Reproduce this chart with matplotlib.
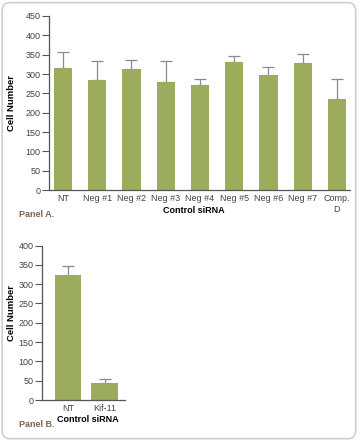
import matplotlib.pyplot as plt
from matplotlib.patches import FancyBboxPatch
import numpy as np

plt.rcParams['font.family'] = ['Liberation Sans', 'DejaVu Sans']

# Panel A
labels_a = ['NT', 'Neg #1', 'Neg #2', 'Neg #3', 'Neg #4', 'Neg #5', 'Neg #6', 'Neg #7', 'Comp.\nD']
means_a = [315, 285, 313, 279, 272, 331, 297, 328, 236]
err_a = [41, 48, 23, 55, 15, 15, 22, 24, 52]

# Panel B
labels_b = ['NT', 'Kif-11']
means_b = [325, 45]
err_b = [22, 9]

bar_color = '#9bac5c'
err_color = '#8a8a8a'
tick_color = '#444444'
panel_color = '#7a6748'

fig = plt.figure(figsize=(3.6, 4.44), dpi=100)

# rounded frame round the whole figure
frame = FancyBboxPatch((0.006, 0.012), 0.982, 0.982, boxstyle='round,pad=0,rounding_size=0.02',
                       transform=fig.transFigure, fill=False, edgecolor='#cfcfcf', linewidth=1.2)
fig.patches.append(frame)


def style_axes(ax, ymax, step):
    for s in ['top', 'right']:
        ax.spines[s].set_visible(False)
    for s in ['left', 'bottom']:
        ax.spines[s].set_color('#555555')
        ax.spines[s].set_linewidth(0.9)
    ax.set_ylim(0, ymax)
    ax.set_yticks(np.arange(0, ymax + 1, step))
    ax.tick_params(axis='y', length=5, width=0.8, color='#555555', labelsize=6.5,
                   labelcolor=tick_color, pad=1)
    ax.tick_params(axis='x', length=0, labelsize=6.5, labelcolor=tick_color, pad=3)


ax1 = fig.add_axes([0.136, 0.572, 0.836, 0.392])
x1 = np.arange(len(labels_a))
ax1.bar(x1, means_a, width=0.53, color=bar_color, zorder=2)
ax1.errorbar(x1, means_a, yerr=[np.zeros(len(err_a)), err_a], fmt='none', ecolor=err_color,
             elinewidth=0.9, capsize=4, capthick=0.9, zorder=1)
ax1.set_xlim(-0.41, 8.38)
ax1.set_xticks(x1)
ax1.set_xticklabels(labels_a, linespacing=1.2)
style_axes(ax1, 450, 50)
fig.text(0.031, 0.768, 'Cell Number', rotation=90, ha='center', va='center',
         fontsize=6.8, fontweight='bold')
fig.text(0.539, 0.526, 'Control siRNA', ha='center', va='center', fontsize=6.5, fontweight='bold')
fig.text(0.053, 0.516, 'Panel A.', ha='left', va='center', fontsize=6.5, fontweight='bold',
         color=panel_color)

ax2 = fig.add_axes([0.117, 0.099, 0.23, 0.348])
x2 = np.arange(len(labels_b))
ax2.bar(x2, means_b, width=0.73, color=bar_color, zorder=2)
ax2.errorbar(x2, means_b, yerr=[np.zeros(len(err_b)), err_b], fmt='none', ecolor=err_color,
             elinewidth=0.9, capsize=4, capthick=0.9, zorder=1)
ax2.set_xlim(-0.7, 1.54)
ax2.set_xticks(x2)
ax2.set_xticklabels(labels_b)
style_axes(ax2, 400, 50)
fig.text(0.031, 0.295, 'Cell Number', rotation=90, ha='center', va='center',
         fontsize=6.8, fontweight='bold')
fig.text(0.243, 0.056, 'Control siRNA', ha='center', va='center', fontsize=6.5, fontweight='bold')
fig.text(0.053, 0.043, 'Panel B.', ha='left', va='center', fontsize=6.5, fontweight='bold',
         color=panel_color)

fig.savefig('out.png', dpi=100)
